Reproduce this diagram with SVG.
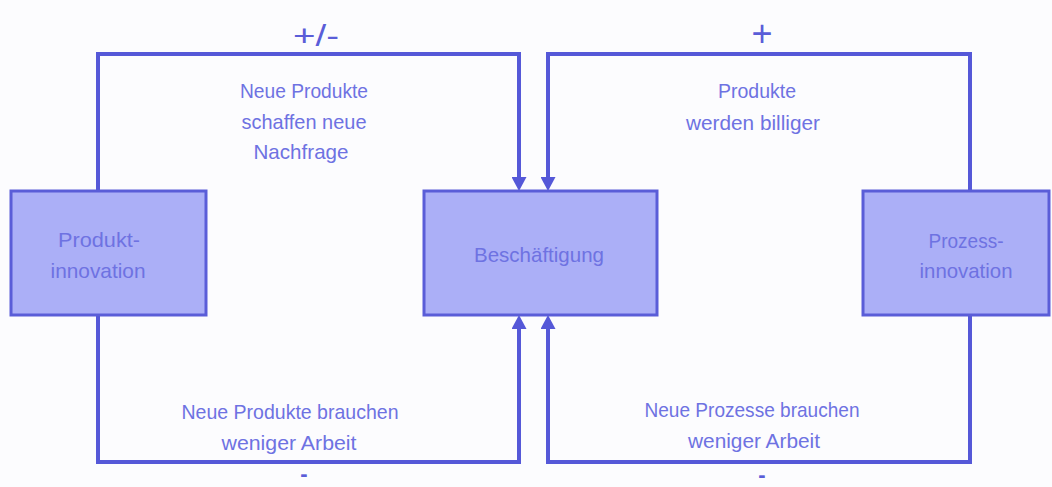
<svg xmlns="http://www.w3.org/2000/svg" width="1052" height="487" viewBox="0 0 1052 487">
<defs>
<style>
.box{fill:#abaff7;stroke:#5a5dd8;stroke-width:3}
.con{fill:none;stroke:#5558d8;stroke-width:4}
.t{font-family:"Liberation Sans",Arial,sans-serif;font-size:21px;fill:#6e72e2;text-anchor:middle}
.sign{font-family:"Liberation Sans",Arial,sans-serif;fill:#5a5dd8;text-anchor:middle}
</style>
<marker id="ah" viewBox="0 0 14 15" refX="2" refY="7.5" markerWidth="14" markerHeight="15" markerUnits="userSpaceOnUse" orient="auto">
<path d="M0,0 L14,7.5 L0,15 z" fill="#5558d8"/>
</marker>
</defs>
<rect width="1052" height="487" fill="#fcfcfe"/>
<g id="connectors">
<path class="con" d="M98 191 V54 H519 V179" marker-end="url(#ah)"/>
<path class="con" d="M98 315 V462 H519 V327" marker-end="url(#ah)"/>
<path class="con" d="M970 191 V54 H548 V179" marker-end="url(#ah)"/>
<path class="con" d="M970 315 V462 H548 V327" marker-end="url(#ah)"/>
</g>
<g id="labels">
<text class="sign" x="316" y="46" font-size="30" textLength="46" lengthAdjust="spacingAndGlyphs">+/-</text>
<text class="sign" x="762" y="46" font-size="36">+</text>
<text class="sign" x="304" y="481" font-size="22" font-weight="bold">-</text>
<text class="sign" x="762" y="482" font-size="22" font-weight="bold">-</text>
<text class="t" x="304" y="98" textLength="128" lengthAdjust="spacingAndGlyphs">Neue Produkte</text>
<text class="t" x="304" y="129" textLength="125" lengthAdjust="spacingAndGlyphs">schaffen neue</text>
<text class="t" x="301" y="159" textLength="95" lengthAdjust="spacingAndGlyphs">Nachfrage</text>
<text class="t" x="757" y="98" textLength="78" lengthAdjust="spacingAndGlyphs">Produkte</text>
<text class="t" x="753" y="130" textLength="134" lengthAdjust="spacingAndGlyphs">werden billiger</text>
<text class="t" x="290" y="419" textLength="217" lengthAdjust="spacingAndGlyphs">Neue Produkte brauchen</text>
<text class="t" x="289" y="450" textLength="135" lengthAdjust="spacingAndGlyphs">weniger Arbeit</text>
<text class="t" x="752" y="417" textLength="215" lengthAdjust="spacingAndGlyphs">Neue Prozesse brauchen</text>
<text class="t" x="754" y="448" textLength="132" lengthAdjust="spacingAndGlyphs">weniger Arbeit</text>
</g>
<g id="produktinnovation">
<rect class="box" x="11" y="191" width="195" height="124"/>
<text class="t" x="99" y="247" textLength="82" lengthAdjust="spacingAndGlyphs">Produkt-</text>
<text class="t" x="98" y="278" textLength="95" lengthAdjust="spacingAndGlyphs">innovation</text>
</g>
<g id="beschaeftigung">
<rect class="box" x="424" y="191" width="233" height="124"/>
<text class="t" x="539" y="262" font-size="22" textLength="130" lengthAdjust="spacingAndGlyphs">Beschäftigung</text>
</g>
<g id="prozessinnovation">
<rect class="box" x="863" y="191" width="186" height="124"/>
<text class="t" x="966" y="248" textLength="75" lengthAdjust="spacingAndGlyphs">Prozess-</text>
<text class="t" x="966" y="278" textLength="93" lengthAdjust="spacingAndGlyphs">innovation</text>
</g>
</svg>
